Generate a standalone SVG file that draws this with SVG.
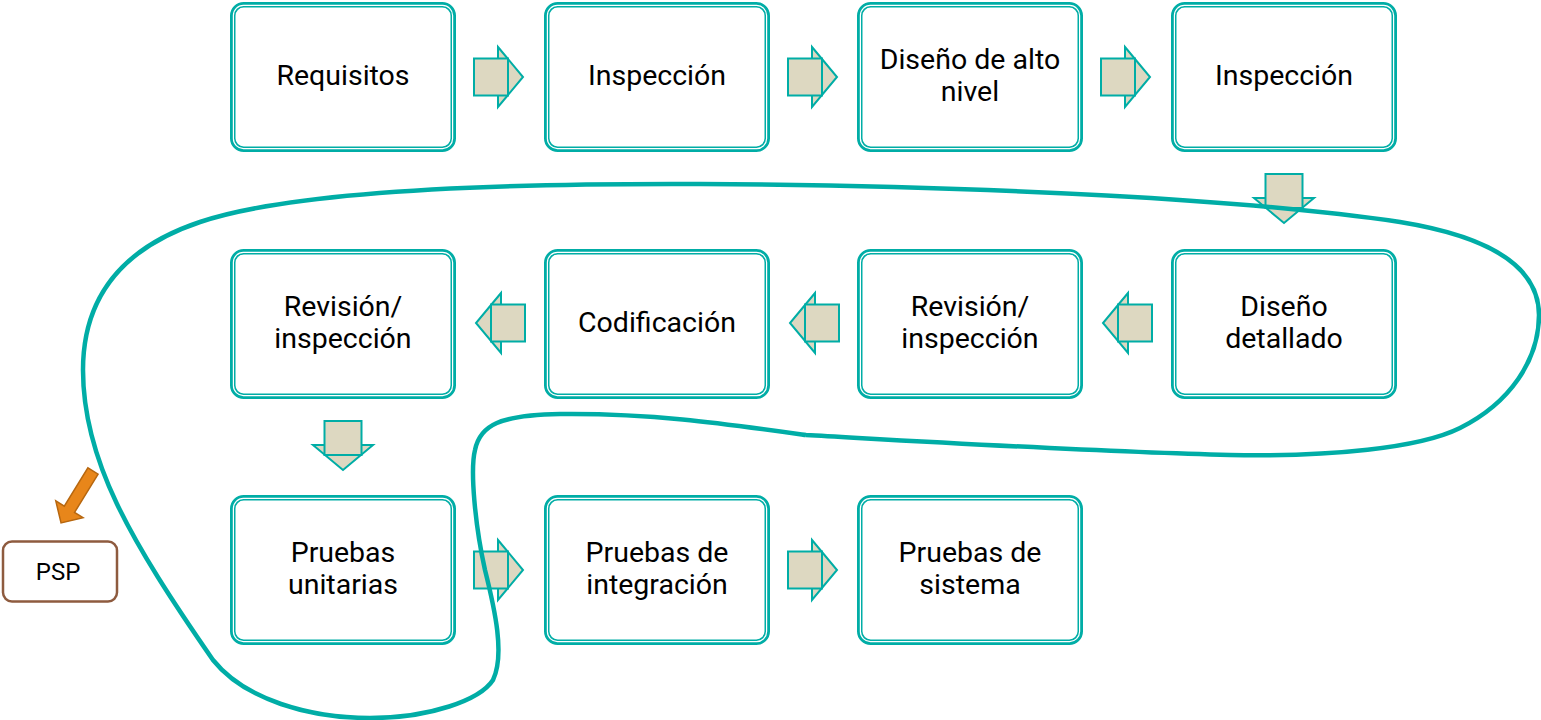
<svg xmlns="http://www.w3.org/2000/svg" width="1541" height="720" viewBox="0 0 1541 720">
<defs>
<style>
.bo{fill:#fff;stroke:#00ADA6;stroke-width:5.5}
.bi{fill:none;stroke:#fff;stroke-width:1.2}
.t{font-family:Roboto,"Liberation Sans",sans-serif;font-size:28.5px;fill:#000;text-anchor:middle}
.af{fill:#DDD8C1;stroke:#00ADA6;stroke-width:2}
.loop{fill:none;stroke:#00ADA6;stroke-width:4.5;stroke-linejoin:round}
</style>
<g id="arr">
<polygon class="af" points="0,-30 25,0 0,30"/>
<rect class="af" x="-24" y="-18.5" width="34" height="37"/>
</g>
</defs>
<rect width="1541" height="720" fill="#fff"/>

<g id="n1"><rect class="bo" x="232.75" y="4.75" width="220.5" height="144.5" rx="11"/><rect class="bi" x="233.4" y="5.4" width="219.2" height="143.2" rx="10"/><text class="t" x="343" y="85">Requisitos</text></g>
<g id="n2"><rect class="bo" x="546.75" y="4.75" width="220.5" height="144.5" rx="11"/><rect class="bi" x="547.4" y="5.4" width="219.2" height="143.2" rx="10"/><text class="t" x="657" y="85">Inspección</text></g>
<g id="n3"><rect class="bo" x="859.75" y="4.75" width="220.5" height="144.5" rx="11"/><rect class="bi" x="860.4" y="5.4" width="219.2" height="143.2" rx="10"/><text class="t" x="970" y="69">Diseño de alto</text><text class="t" x="970" y="101">nivel</text></g>
<g id="n4"><rect class="bo" x="1173.75" y="4.75" width="220.5" height="144.5" rx="11"/><rect class="bi" x="1174.4" y="5.4" width="219.2" height="143.2" rx="10"/><text class="t" x="1284" y="85">Inspección</text></g>

<g id="n5"><rect class="bo" x="232.75" y="251.75" width="220.5" height="144.5" rx="11"/><rect class="bi" x="233.4" y="252.4" width="219.2" height="143.2" rx="10"/><text class="t" x="343" y="316">Revisión/</text><text class="t" x="343" y="348">inspección</text></g>
<g id="n6"><rect class="bo" x="546.75" y="251.75" width="220.5" height="144.5" rx="11"/><rect class="bi" x="547.4" y="252.4" width="219.2" height="143.2" rx="10"/><text class="t" x="657" y="332">Codificación</text></g>
<g id="n7"><rect class="bo" x="859.75" y="251.75" width="220.5" height="144.5" rx="11"/><rect class="bi" x="860.4" y="252.4" width="219.2" height="143.2" rx="10"/><text class="t" x="970" y="316">Revisión/</text><text class="t" x="970" y="348">inspección</text></g>
<g id="n8"><rect class="bo" x="1173.75" y="251.75" width="220.5" height="144.5" rx="11"/><rect class="bi" x="1174.4" y="252.4" width="219.2" height="143.2" rx="10"/><text class="t" x="1284" y="316">Diseño</text><text class="t" x="1284" y="348">detallado</text></g>

<g id="n9"><rect class="bo" x="232.75" y="497.75" width="220.5" height="144.5" rx="11"/><rect class="bi" x="233.4" y="498.4" width="219.2" height="143.2" rx="10"/><text class="t" x="343" y="562">Pruebas</text><text class="t" x="343" y="594">unitarias</text></g>
<g id="n10"><rect class="bo" x="546.75" y="497.75" width="220.5" height="144.5" rx="11"/><rect class="bi" x="547.4" y="498.4" width="219.2" height="143.2" rx="10"/><text class="t" x="657" y="562">Pruebas de</text><text class="t" x="657" y="594">integración</text></g>
<g id="n11"><rect class="bo" x="859.75" y="497.75" width="220.5" height="144.5" rx="11"/><rect class="bi" x="860.4" y="498.4" width="219.2" height="143.2" rx="10"/><text class="t" x="970" y="562">Pruebas de</text><text class="t" x="970" y="594">sistema</text></g>

<g id="psp"><rect x="3" y="541.5" width="114" height="60" rx="9" fill="#fff" stroke="#8E5B3F" stroke-width="2.5"/><text x="58" y="580" font-family="Roboto,'Liberation Sans',sans-serif" font-size="24" text-anchor="middle" fill="#000">PSP</text></g>

<g id="connectors">
<use href="#arr" transform="translate(498,77)"/>
<use href="#arr" transform="translate(812,77)"/>
<use href="#arr" transform="translate(1125,77)"/>
<use href="#arr" transform="translate(1284,198) rotate(90)"/>
<use href="#arr" transform="translate(1128,323) scale(-1,1)"/>
<use href="#arr" transform="translate(815,323) scale(-1,1)"/>
<use href="#arr" transform="translate(501,323) scale(-1,1)"/>
<use href="#arr" transform="translate(343,445) rotate(90)"/>
<use href="#arr" transform="translate(498,570)"/>
<use href="#arr" transform="translate(812,570)"/>
<polygon points="0,-6 45,-6 45,-16 61,0 45,16 45,6 0,6" fill="#E8861A" stroke="#B7670F" stroke-width="1.5" stroke-linejoin="miter" transform="translate(93,471) rotate(121.6)"/>
</g>

<path class="loop" d="M 806,435 C 950,443 1100,452 1230,455 C 1330,457 1420,448 1460,428 C 1510,403 1539,360 1539,315 C 1539,262 1480,235 1400,222 C 1250,200 1000,186 700,184 C 450,183 280,195 200,222 C 110,252 83,310 83,370 C 83,460 130,540 213,660 C 245,700 310,718 370,718 C 430,718 480,700 493,680 C 505,655 495,610 485,570 C 475,525 470,470 475,450 C 480,425 500,415 560,414 C 650,413 720,423 806,435"/>
</svg>
